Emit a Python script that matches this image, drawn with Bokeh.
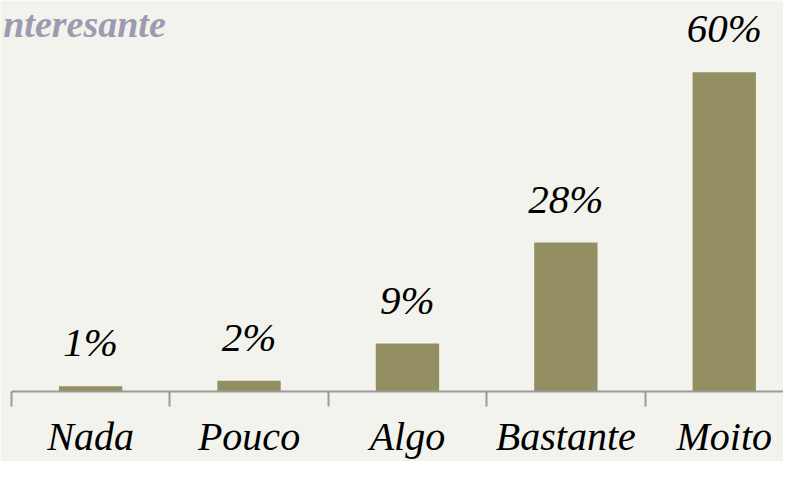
from bokeh.plotting import figure
from bokeh.models import Range1d, FixedTicker, Label, ColumnDataSource
from bokeh.core.properties import value
from bokeh.embed import file_html
from bokeh.resources import INLINE

categories = ["Nada", "Pouco", "Algo", "Bastante", "Moito"]
values = [1, 2, 9, 28, 60]
value_labels = ["1%", "2%", "9%", "28%", "60%"]
title_text = "nteresante"

BG = "#f3f3ee"
BAR = "#948f62"
FONT = "Liberation Serif"

xs = [i + 0.5 for i in range(len(categories))]
bounds = list(range(len(categories) + 1))
src = ColumnDataSource(dict(x=xs, top=values, lab=value_labels))

p = figure(width=783, height=461, output_backend="svg", toolbar_location=None,
           x_range=Range1d(-0.069, 4.874), y_range=Range1d(0, 73.5),
           min_border_left=0, min_border_right=0, min_border_top=0, min_border_bottom=70)
p.background_fill_color = BG
p.border_fill_color = BG
p.outline_line_color = None
p.grid.visible = False
p.yaxis.visible = False

p.vbar(x="x", top="top", width=0.40, bottom=0, source=src, fill_color=BAR, line_color=None)
p.text(x="x", y="top", text="lab", source=src, y_offset=-44, text_align="center",
       text_baseline="alphabetic", text_font=value(FONT), text_font_style="italic",
       text_font_size="41px", text_color="black")

ax = p.xaxis[0]
ax.ticker = FixedTicker(ticks=xs, minor_ticks=bounds)
ax.major_label_overrides = {x: c for x, c in zip(xs, categories)}
ax.bounds = (0, len(categories))
ax.axis_line_color = "#9a9a9a"
ax.axis_line_width = 2
ax.major_tick_line_color = None
ax.major_tick_out = 0
ax.major_tick_in = 0
ax.minor_tick_line_color = "#9a9a9a"
ax.minor_tick_line_width = 2
ax.minor_tick_out = 15
ax.minor_tick_in = 0
ax.major_label_standoff = 7
ax.major_label_text_font = FONT
ax.major_label_text_font_style = "italic"
ax.major_label_text_font_size = "40px"
ax.major_label_text_color = "black"

p.add_layout(Label(x=-0.052, y=69.1, text=title_text, text_font=FONT,
                   text_font_style="bold italic", text_font_size="38px",
                   text_color="#9c9baf", text_baseline="alphabetic"))

open("out.html", "w").write(file_html(p, INLINE))
